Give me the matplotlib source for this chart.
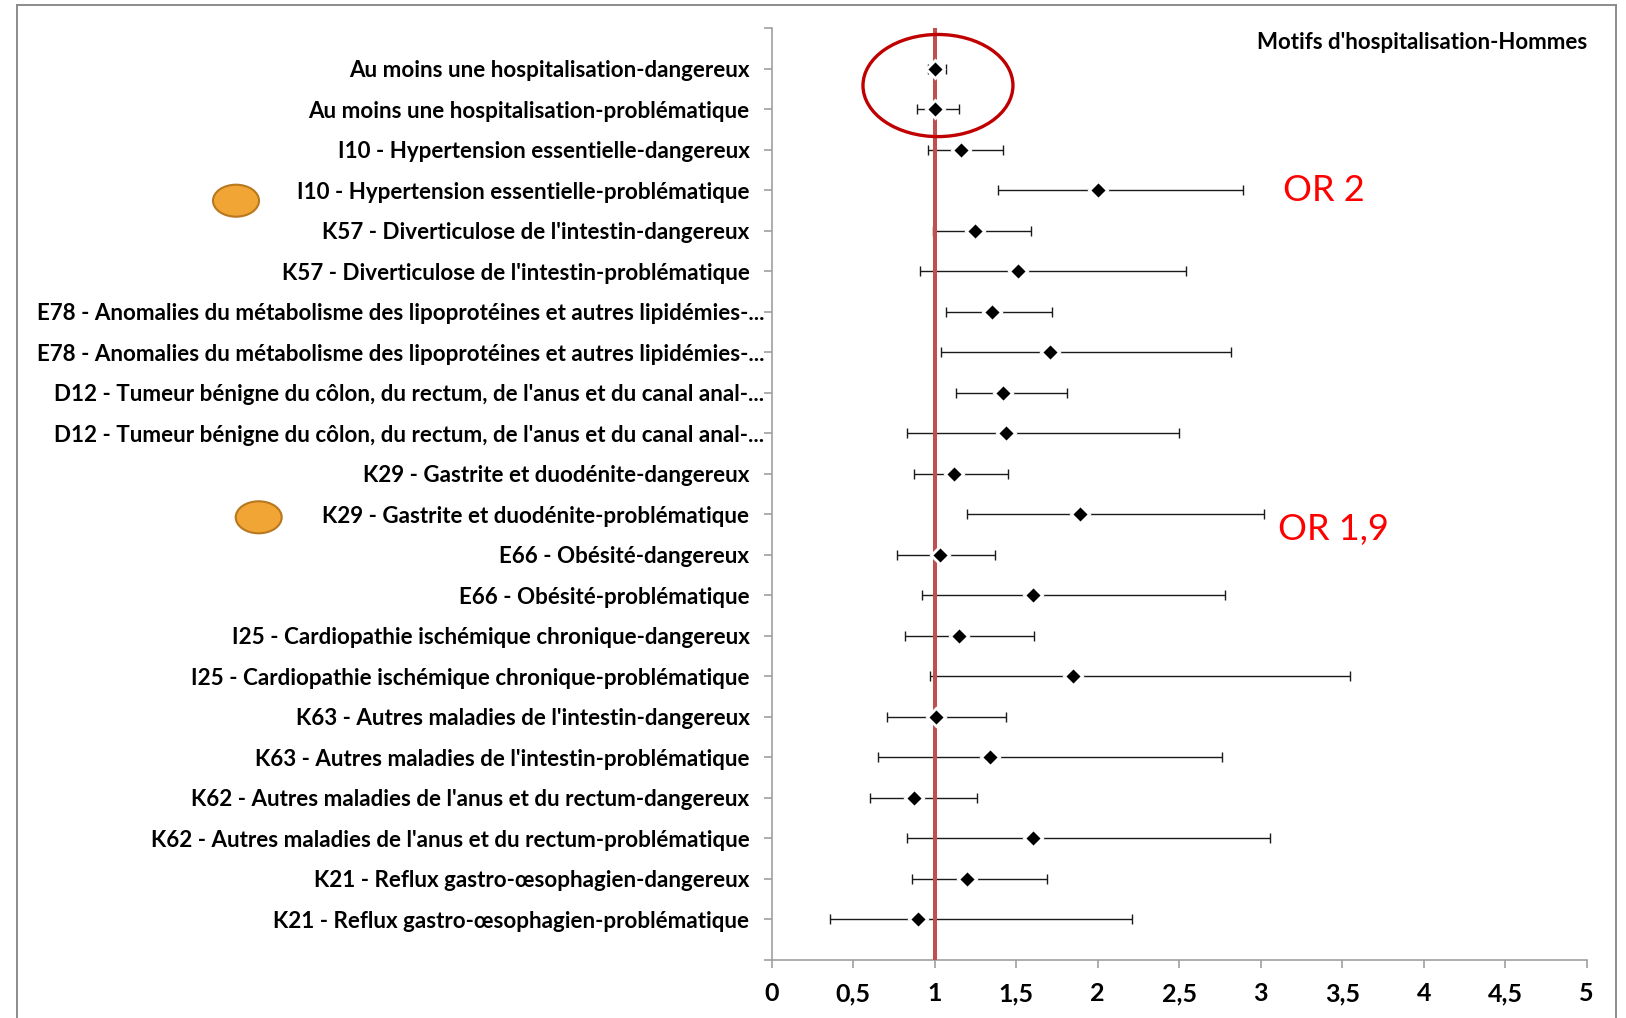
import matplotlib
matplotlib.use("Agg")
import matplotlib.pyplot as plt
from matplotlib.patches import Ellipse
from matplotlib.ticker import FixedLocator, MultipleLocator, FuncFormatter

plt.rcParams['font.family'] = ['Lato', 'DejaVu Sans']

# motifs, de haut en bas
labels = [
    "Au moins une hospitalisation-dangereux",
    "Au moins une hospitalisation-problématique",
    "I10 - Hypertension essentielle-dangereux",
    "I10 - Hypertension essentielle-problématique",
    "K57 - Diverticulose de l'intestin-dangereux",
    "K57 - Diverticulose de l'intestin-problématique",
    "E78 - Anomalies du métabolisme des lipoprotéines et autres lipidémies-...",
    "E78 - Anomalies du métabolisme des lipoprotéines et autres lipidémies-...",
    "D12 - Tumeur bénigne du côlon, du rectum, de l'anus et du canal anal-...",
    "D12 - Tumeur bénigne du côlon, du rectum, de l'anus et du canal anal-...",
    "K29 - Gastrite et duodénite-dangereux",
    "K29 - Gastrite et duodénite-problématique",
    "E66 - Obésité-dangereux",
    "E66 - Obésité-problématique",
    "I25 - Cardiopathie ischémique chronique-dangereux",
    "I25 - Cardiopathie ischémique chronique-problématique",
    "K63 - Autres maladies de l'intestin-dangereux",
    "K63 - Autres maladies de l'intestin-problématique",
    "K62 - Autres maladies de l'anus et du rectum-dangereux",
    "K62 - Autres maladies de l'anus et du rectum-problématique",
    "K21 - Reflux gastro-œsophagien-dangereux",
    "K21 - Reflux gastro-œsophagien-problématique",
]
odds = [1.00, 1.00, 1.16, 2.00, 1.25, 1.51, 1.35, 1.71, 1.42, 1.44, 1.12,
        1.89, 1.03, 1.60, 1.15, 1.85, 1.01, 1.34, 0.87, 1.60, 1.20, 0.90]
ci_low = [0.96, 0.89, 0.96, 1.39, 0.99, 0.91, 1.07, 1.04, 1.13, 0.83, 0.87,
          1.20, 0.77, 0.92, 0.82, 0.97, 0.71, 0.65, 0.60, 0.83, 0.86, 0.36]
ci_high = [1.07, 1.15, 1.42, 2.89, 1.59, 2.54, 1.72, 2.82, 1.81, 2.50, 1.45,
           3.02, 1.37, 2.78, 1.61, 3.55, 1.44, 2.76, 1.26, 3.06, 1.69, 2.21]

n = len(labels)
ypos = list(range(n, 0, -1))

fig = plt.figure(figsize=(16.26, 10.18), dpi=100)
ax = fig.add_axes([771.7 / 1626, 1 - 960 / 1018, 815 / 1626, 932 / 1018])

xerr = [[o - l for o, l in zip(odds, ci_low)], [h - o for o, h in zip(odds, ci_high)]]
ax.errorbar(odds, ypos, xerr=xerr, fmt='none', ecolor='#1a1a1a', elinewidth=1.0,
            capsize=3.6, capthick=1.0, zorder=2)
ax.axvline(1, color='#C0504D', lw=2.9, zorder=3)
ax.plot(odds, ypos, 'D', color='black', ms=9, mec='white', mew=2, zorder=4)

ax.set_xlim(0, 5)
ax.set_ylim(0, n + 1)
ax.xaxis.set_major_locator(MultipleLocator(0.5))
ax.xaxis.set_major_formatter(FuncFormatter(lambda v, p: f"{v:g}".replace('.', ',')))
ax.yaxis.set_major_locator(FixedLocator(range(0, n + 2)))
ax.set_yticklabels([''] + labels[::-1] + [''])

for s in ['top', 'right']:
    ax.spines[s].set_visible(False)
for s in ['left', 'bottom']:
    ax.spines[s].set_color('#A0A0A0')
    ax.spines[s].set_linewidth(1.2)
ax.tick_params(axis='both', colors='#A0A0A0', length=6, width=1.2, labelcolor='black')
ax.tick_params(axis='y', pad=10, labelsize=16.1)
ax.tick_params(axis='x', pad=10, labelsize=18)
for lab in ax.get_yticklabels() + ax.get_xticklabels():
    lab.set_fontweight('bold')
for lab in ax.get_yticklabels():
    if lab.get_text().endswith('...'):
        lab.set_x(0.018)

# cercle rouge autour des deux premières lignes
ax.add_patch(Ellipse((1.02, 21.58), 0.92, 2.52, fill=False, ec='#C00000', lw=2.4, zorder=5))

# pastilles orange
for cx, cy in [(236, 200.7), (258.7, 517.3)]:
    fig.add_artist(Ellipse((cx / 100, (1018 - cy) / 100), 0.46, 0.32,
                           transform=fig.dpi_scale_trans, fc='#F0A535', ec='#B8781E', lw=1.5))

fig.text(1587 / 1626, 1 - 49.3 / 1018, "Motifs d'hospitalisation-Hommes", ha='right',
         va='baseline', fontsize=16, fontweight='bold')
fig.text(1283 / 1626, 1 - 200.7 / 1018, "OR 2", color='red', fontsize=26, va='baseline')
fig.text(1277.7 / 1626, 1 - 540 / 1018, "OR 1,9", color='red', fontsize=26, va='baseline')

# cadre du graphique
for xs, ys in [([17, 17], [5, 1018]), ([17, 1616], [5, 5]), ([1616, 1616], [5, 1018])]:
    fig.add_artist(plt.Line2D([x / 1626 for x in xs], [1 - y / 1018 for y in ys],
                              color='#8C8C8C', lw=1.4))

fig.savefig('out.png', dpi=100)
